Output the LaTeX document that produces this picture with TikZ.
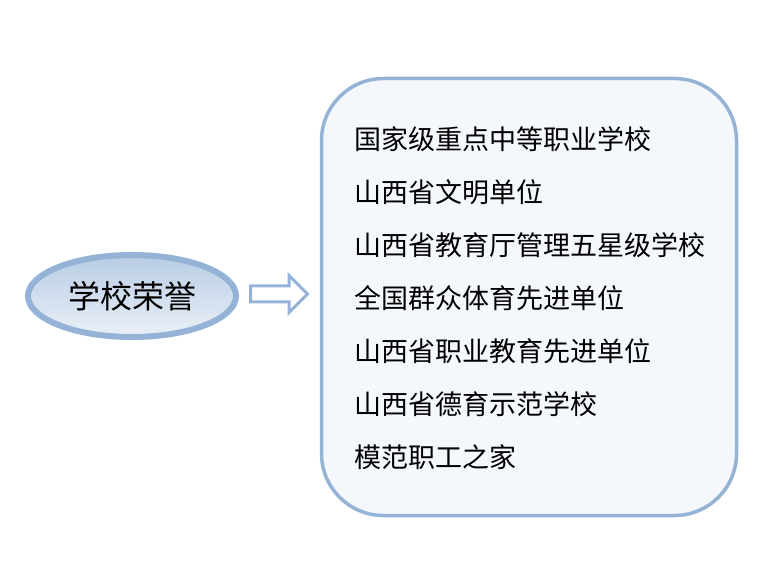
\documentclass[tikz,border=0pt]{standalone}
\usepackage{fontspec}
\newfontfamily\cjk{Noto Sans CJK SC}
\usetikzlibrary{shapes.geometric,shapes.arrows}
\definecolor{edgeblue}{HTML}{95B3D7}
\definecolor{boxfill}{HTML}{F4F7FC}
\definecolor{topblue}{HTML}{B8CCE4}
\definecolor{lowblue}{HTML}{EAF0F8}
\begin{document}
\begin{tikzpicture}[x=1pt,y=-1pt,
    honor/.style={ellipse, draw=edgeblue, line width=6pt, top color=topblue, bottom color=lowblue,
        minimum width=208pt, minimum height=82pt, inner sep=0pt, font=\cjk\fontsize{32}{32}\selectfont},
    listbox/.style={draw=edgeblue, line width=3.5pt, fill=boxfill, rounded corners=62pt,
        minimum width=415pt, minimum height=437pt},
    item/.style={anchor=west, inner sep=0pt, font=\cjk\fontsize{27}{27}\selectfont}]
    \useasboundingbox (0,0) rectangle (779,577);
    \node [honor] (title) at (132,296) {学校荣誉};
    \node [single arrow, draw=edgeblue, line width=3pt, fill=white, inner sep=6.5pt,
        single arrow head extend=10.5pt, minimum height=57pt] (arrow) at (275,294) {};
    \node [listbox] (box) at (529,297) {};
    \node [item] (i1) at (354,139.5) {国家级重点中等职业学校};
    \node [item] (i2) at (354,192.5) {山西省文明单位};
    \node [item] (i3) at (354,245.5) {山西省教育厅管理五星级学校};
    \node [item] (i4) at (354,298.5) {全国群众体育先进单位};
    \node [item] (i5) at (354,351.5) {山西省职业教育先进单位};
    \node [item] (i6) at (354,404.5) {山西省德育示范学校};
    \node [item] (i7) at (354,457.5) {模范职工之家};
\end{tikzpicture}
\end{document}
